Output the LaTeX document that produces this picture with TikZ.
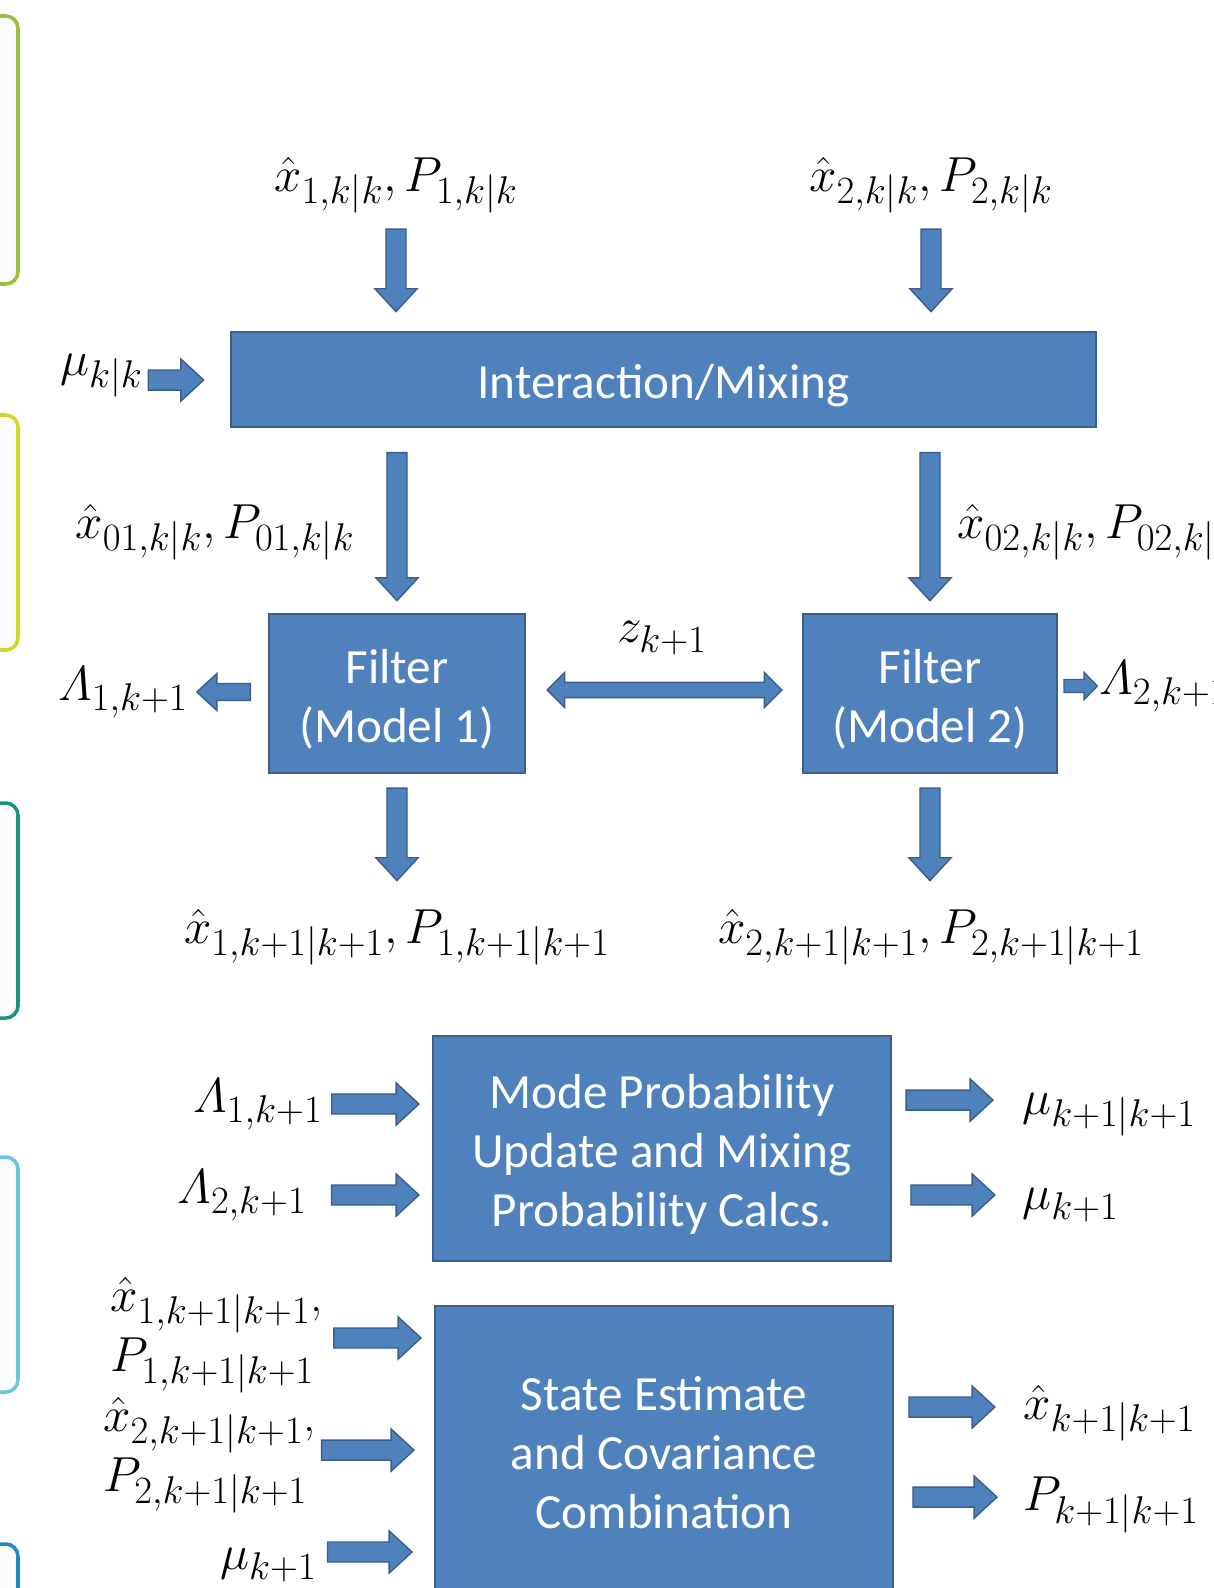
\RequirePackage{fix-cm}
\documentclass[tikz,border=0pt]{standalone}
\usepackage{amsmath}
\usepackage{fontspec}
\newfontfamily\boxfont{Carlito}
\usepackage{tikz}
\usetikzlibrary{calc}
\DeclareMathSizes{28}{28}{22}{16}

\definecolor{ifill}{HTML}{4F81BD}
\definecolor{iedge}{HTML}{3A5F8C}
\definecolor{decofill}{HTML}{FBFAFD}
\definecolor{decoA}{HTML}{9BBF3A}
\definecolor{decoB}{HTML}{D2D826}
\definecolor{decoC}{HTML}{1A9282}
\definecolor{decoD}{HTML}{6CC6DA}
\definecolor{decoE}{HTML}{1E88C4}

\tikzset{
  arr/.style={shift={(\p1)}, rotate=\n1},
  blockarrow/.style n args={3}{draw=iedge, fill=ifill, line width=0.8pt,
    to path={let \p1=(\tikztostart), \p2=(\tikztotarget),
      \n1={atan2(\y2-\y1,\x2-\x1)}, \n2={veclen(\x2-\x1,\y2-\y1)} in
      ([arr]0pt,-#1) -- ([arr]{\n2-#3},-#1) -- ([arr]{\n2-#3},-#2)
      -- ([arr]{\n2},0pt) -- ([arr]{\n2-#3},#2) -- ([arr]{\n2-#3},#1)
      -- ([arr]0pt,#1) -- cycle}},
  dblarrow/.style n args={3}{draw=iedge, fill=ifill, line width=0.8pt,
    to path={let \p1=(\tikztostart), \p2=(\tikztotarget),
      \n1={atan2(\y2-\y1,\x2-\x1)}, \n2={veclen(\x2-\x1,\y2-\y1)} in
      ([arr]0pt,0pt) -- ([arr]#3,#2) -- ([arr]#3,#1) -- ([arr]{\n2-#3},#1)
      -- ([arr]{\n2-#3},#2) -- ([arr]{\n2},0pt) -- ([arr]{\n2-#3},-#2)
      -- ([arr]{\n2-#3},-#1) -- ([arr]#3,-#1) -- ([arr]#3,-#2) -- cycle}}
}

\begin{document}
\begin{tikzpicture}[
  x=0.02cm, y=-0.02cm,
  block/.style={draw=iedge, fill=ifill, line width=1.2pt, text=white, align=center,
    inner sep=0pt, font=\boxfont\fontsize{28}{33.5}\selectfont},
  lbl/.style={inner sep=0pt, font=\fontsize{28}{34}\selectfont},
  deco/.style={rounded corners=7pt, line width=2pt, fill=decofill},
  bigarrow/.style={blockarrow={5.7pt}{12pt}{13pt}},
  midarrow/.style={blockarrow={4.8pt}{10.5pt}{11.4pt}},
  smallarrow/.style={blockarrow={3.7pt}{7.7pt}{7.5pt}}
]
  \useasboundingbox (0,0) rectangle (1213,1588);
  \clip (0,0) rectangle (1213,1588);

  % Left margin tabs
  \draw[deco, draw=decoA] (-60,16) rectangle (18,284);
  \draw[deco, draw=decoB] (-60,415) rectangle (18,650);
  \draw[deco, draw=decoC] (-60,803) rectangle (18,1018);
  \draw[deco, draw=decoD] (-60,1157) rectangle (18,1392);
  \draw[deco, draw=decoE] (-60,1544) rectangle (18,1660);

  % Blocks
  \node[block, minimum width=17.3cm, minimum height=1.9cm, text height=26pt] (mix) at (663.5,379.5) {Interaction/Mixing};
  \node[block, minimum width=5.12cm, minimum height=3.18cm, text height=56pt, text depth=0pt] (filt1) at (397,693.5) {Filter\\(Model 1)};
  \node[block, minimum width=5.08cm, minimum height=3.18cm, text height=56pt, text depth=0pt] (filt2) at (930,693.5) {Filter\\(Model 2)};
  \node[block, minimum width=9.16cm, minimum height=4.5cm, text height=93pt] (mode) at (662,1148.5) {Mode Probability\\Update and Mixing\\Probability Calcs.};
  \node[block, minimum width=9.16cm, minimum height=5.88cm] (state) at (664,1453) {State Estimate\\and Covariance\\Combination};

  % Top inputs
  \node[lbl] (x1in) at (396,185) {$\hat{x}_{1,k|k}, P_{1,k|k}$};
  \node[lbl] (x2in) at (931,185) {$\hat{x}_{2,k|k}, P_{2,k|k}$};
  \node[lbl, anchor=east] (muin) at (143,376) {$\mu_{k|k}$};

  % Mixed estimates and filter outputs
  \node[lbl] (x01) at (215,532) {$\hat{x}_{01,k|k}, P_{01,k|k}$};
  \node[lbl, anchor=west] (x02) at (957,532) {$\hat{x}_{02,k|k}, P_{02,k|k}$};
  \node[lbl] (z) at (662,638) {$z_{k+1}$};
  \node[lbl, anchor=east] (lam1) at (188,692) {$\varLambda_{1,k+1}$};
  \node[lbl, anchor=west] (lam2) at (1099,686) {$\varLambda_{2,k+1}$};
  \node[lbl] (x1out) at (397,937) {$\hat{x}_{1,k+1|k+1}, P_{1,k+1|k+1}$};
  \node[lbl] (x2out) at (931,937) {$\hat{x}_{2,k+1|k+1}, P_{2,k+1|k+1}$};

  % Mode probability inputs/outputs
  \node[lbl, anchor=east] (mlam1) at (323,1104) {$\varLambda_{1,k+1}$};
  \node[lbl, anchor=east] (mlam2) at (307,1195) {$\varLambda_{2,k+1}$};
  \node[lbl, anchor=west] (mu1) at (1022,1115) {$\mu_{k+1|k+1}$};
  \node[lbl, anchor=west] (mu2) at (1022,1205) {$\mu_{k+1}$};

  % State combination inputs/outputs
  \node[lbl, anchor=west, align=left] (s1in) at (110,1335) {$\hat{x}_{1,k+1|k+1}$,\\$P_{1,k+1|k+1}$};
  \node[lbl, anchor=west, align=left] (s2in) at (103,1455) {$\hat{x}_{2,k+1|k+1}$,\\$P_{2,k+1|k+1}$};
  \node[lbl, anchor=east] (smu) at (317,1565) {$\mu_{k+1}$};
  \node[lbl, anchor=west] (xfin) at (1023,1413) {$\hat{x}_{k+1|k+1}$};
  \node[lbl, anchor=west] (pfin) at (1023,1505) {$P_{k+1|k+1}$};

  % Arrows into mixing
  \draw[bigarrow] ([yshift=-9pt]x1in.south) to ([yshift=11pt]mix.north -| x1in.south);
  \draw[bigarrow] ([yshift=-9pt]x2in.south) to ([yshift=11pt]mix.north -| x2in.south);
  \draw[bigarrow] ([xshift=3pt,yshift=-2.3pt]muin.east) to ([xshift=-15pt,yshift=-2.3pt]mix.west |- muin.east);

  % Mixing to filters
  \draw[bigarrow] ([yshift=-14pt]mix.south -| filt1.north) to ([yshift=7pt]filt1.north);
  \draw[bigarrow] ([yshift=-14pt]mix.south -| filt2.north) to ([yshift=7pt]filt2.north);

  % Filter side arrows
  \draw[midarrow] ([xshift=-10pt]filt1.west |- lam1.east) to ([xshift=5pt]lam1.east);
  \draw[dblarrow={4.3pt}{10pt}{10pt}] ([xshift=12pt,yshift=2pt]filt1.east) to ([xshift=-11.4pt,yshift=2pt]filt2.west);
  \draw[smallarrow] ([xshift=3.4pt]filt2.east |- lam2.west) to ([xshift=-1pt]lam2.west);

  % Filters to outputs
  \draw[bigarrow] ([yshift=-8pt]filt1.south) to ([yshift=16pt]x1out.north -| filt1.south);
  \draw[bigarrow] ([yshift=-8pt]filt2.south) to ([yshift=16pt]x2out.north -| filt2.south);

  % Mode probability arrows
  \draw[bigarrow] ([xshift=5pt]mlam1.east) to ([xshift=-7.4pt]mode.west |- mlam1.east);
  \draw[bigarrow] ([xshift=14pt]mlam2.east) to ([xshift=-7.4pt]mode.west |- mlam2.east);
  \draw[bigarrow] ([xshift=8pt,yshift=8.5pt]mode.east |- mu1.west) to ([xshift=-16.5pt,yshift=8.5pt]mu1.west);
  \draw[bigarrow] ([xshift=10.8pt,yshift=5.7pt]mode.east |- mu2.west) to ([xshift=-15.4pt,yshift=5.7pt]mu2.west);

  % State combination arrows
  \draw[bigarrow] ([xshift=6pt,yshift=-1.7pt]s1in.east) to ([xshift=-7.4pt,yshift=-1.7pt]state.west |- s1in.east);
  \draw[bigarrow] ([xshift=3pt,yshift=2.8pt]s2in.east) to ([xshift=-11.4pt,yshift=2.8pt]state.west |- s2in.east);
  \draw[bigarrow] ([xshift=6pt,yshift=7.4pt]smu.east) to ([xshift=-12.5pt,yshift=7.4pt]state.west |- smu.east);
  \draw[bigarrow] ([xshift=8.5pt,yshift=3.4pt]state.east |- xfin.west) to ([xshift=-16pt,yshift=3.4pt]xfin.west);
  \draw[bigarrow] ([xshift=10.8pt,yshift=4.5pt]state.east |- pfin.west) to ([xshift=-14.8pt,yshift=4.5pt]pfin.west);
\end{tikzpicture}
\end{document}
